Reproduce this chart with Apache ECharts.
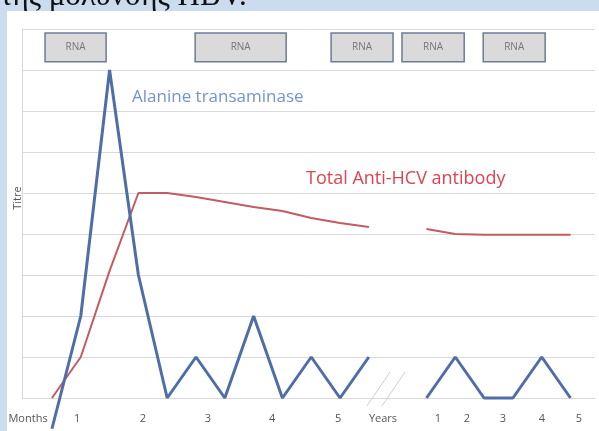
<!DOCTYPE html>
<html>
<head>
<meta charset="utf-8">
<script src="https://cdn.jsdelivr.net/npm/echarts@6/dist/echarts.min.js"></script>
<style>
  html, body { margin: 0; padding: 0; background: #cadcee; }
  #chart { width: 599px; height: 431px; }
</style>
</head>
<body>
<div id="chart"></div>
<script>
// sample points along the time axis (index 12 is the months/years break)
var altTitre = [-0.75, 2, 8, 3, 0, 1, 0, 2, 0, 1, 0, 1, null, 0, 1, 0, 0, 1, 0];
var antibodyTitre = [0, 1, 3.1, 5, 5, 4.9, 4.78, 4.66, 4.56, 4.39, 4.27, 4.17, null, 4.12, 4.0, 3.98, 3.98, 3.98, 3.98];

// tick labels and where they sit on the time axis
var tickText = ['Months', '1', '2', '3', '4', '5', 'Years', '1', '2', '3', '4', '5'];
var tickAt = [-0.83, 0.87, 3.16, 5.41, 7.64, 9.93, 11.49, 13.4, 14.4, 15.65, 17.01, 18.29];

// RNA test windows [from, to] on the time axis
var rnaWindows = [[-0.24, 1.88], [4.97, 8.13], [9.69, 11.84], [12.15, 14.31], [14.97, 17.12]];

function pairs(vals) {
    return vals.map(function (v, i) { return [i, v]; });
}

var chart = echarts.init(document.getElementById('chart'));

var option = {
    animation: false,
    backgroundColor: 'transparent',
    grid: { left: 22, right: 4, top: 29, bottom: 33 },
    xAxis: {
        type: 'value',
        min: -1.04,
        max: 18.85,
        axisLine: { show: true, lineStyle: { color: '#d9d9d9' } },
        axisTick: { show: false },
        splitLine: { show: false },
        axisLabel: {
            customValues: tickAt,
            margin: 15,
            color: '#555',
            fontSize: 11,
            fontFamily: 'Open Sans',
            formatter: function (val) {
                for (var i = 0; i < tickAt.length; i++) {
                    if (Math.abs(tickAt[i] - val) < 1e-6) return tickText[i];
                }
                return '';
            }
        }
    },
    yAxis: {
        type: 'value',
        min: 0,
        max: 9,
        interval: 1,
        axisLine: { show: true, onZero: false, lineStyle: { color: '#d9d9d9' } },
        axisTick: { show: false },
        axisLabel: { show: false },
        splitLine: { lineStyle: { color: '#dadada' } }
    },
    graphic: [
        {
            type: 'text', z: -20, left: 0, top: -19,
            style: {
                text: 'της μόλυνσης HBV.',
                font: '31px "Liberation Serif"',
                fill: '#111'
            }
        },
        {
            type: 'rect', z: -10,
            shape: { x: 7, y: 11, width: 592, height: 420 },
            style: { fill: '#ffffff' }
        },
        {
            type: 'text', x: 18, y: 198, rotation: Math.PI / 2,
            style: {
                text: 'Titre', font: '11px "Open Sans"', fill: '#555',
                textAlign: 'center', textVerticalAlign: 'middle'
            }
        },
        {
            type: 'text', x: 132, y: 97,
            style: {
                text: 'Alanine transaminase', font: '17px "Open Sans"', fill: '#7394cf',
                textVerticalAlign: 'middle'
            }
        },
        {
            type: 'text', x: 306, y: 179,
            style: {
                text: 'Total Anti-HCV antibody', font: '18px "Open Sans"', fill: '#e0434f',
                textVerticalAlign: 'middle'
            }
        },
        {
            type: 'line', shape: { x1: 367, y1: 406, x2: 390, y2: 372 },
            style: { stroke: '#cfcfcf', lineWidth: 1 }
        },
        {
            type: 'line', shape: { x1: 382, y1: 406, x2: 405, y2: 372 },
            style: { stroke: '#cfcfcf', lineWidth: 1 }
        }
    ],
    series: [
        {
            name: 'Total Anti-HCV antibody',
            type: 'line',
            data: pairs(antibodyTitre),
            symbol: 'none',
            clip: false,
            lineStyle: { color: '#c45a64', width: 2 },
            markArea: {
                silent: true,
                itemStyle: { color: '#dadada', borderColor: '#6d7b98', borderWidth: 1.5 },
                label: {
                    show: true, position: 'inside', formatter: 'RNA',
                    color: '#777', fontSize: 10, fontFamily: 'Open Sans'
                },
                data: rnaWindows.map(function (w) {
                    return [{ coord: [w[0], 8.9] }, { coord: [w[1], 8.2] }];
                })
            }
        },
        {
            name: 'Alanine transaminase',
            type: 'line',
            data: pairs(altTitre),
            symbol: 'none',
            clip: false,
            lineStyle: { color: '#4f6ea9', width: 3 }
        }
    ]
};

chart.setOption(option);
</script>
</body>
</html>
